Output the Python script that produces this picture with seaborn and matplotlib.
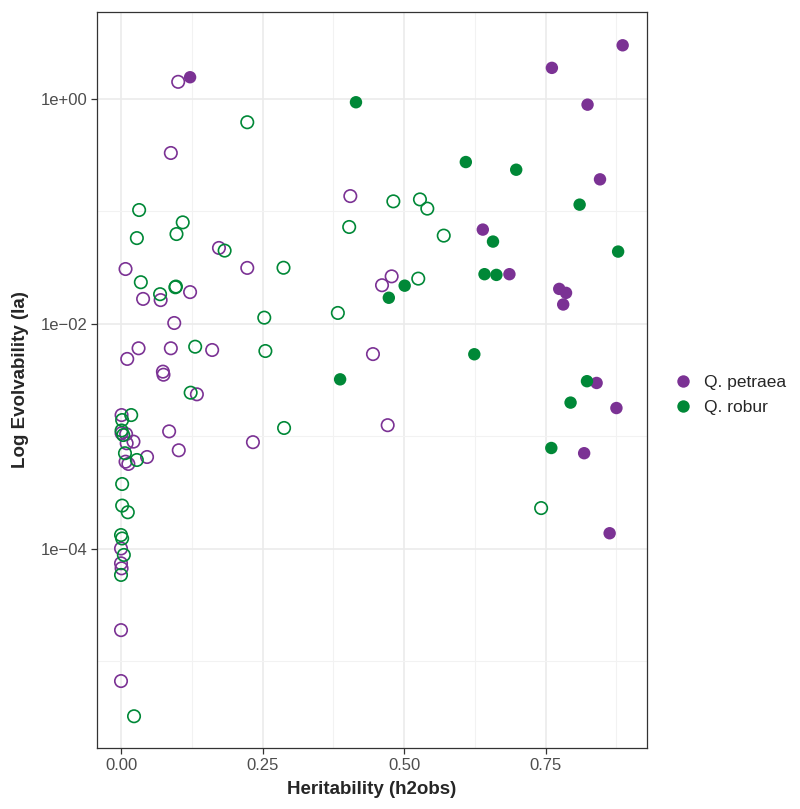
import numpy as np
import pandas as pd
import matplotlib
matplotlib.use("Agg")
import matplotlib.pyplot as plt
import matplotlib.ticker as mticker
import seaborn as sns

# Q. petraea, significant (filled) traits
petraea_sig_h2 = [0.122, 0.761, 0.886, 0.824, 0.846, 0.639, 0.686, 0.774, 0.786, 0.781,
                  0.840, 0.875, 0.818, 0.863]
petraea_sig_ia = [1.56, 1.89, 3.0, 0.89, 0.193, 0.069, 0.0277, 0.0205, 0.0189, 0.0149,
                  0.00299, 0.00179, 0.00071, 0.000138]

# Q. robur, significant (filled) traits
robur_sig_h2 = [0.415, 0.609, 0.698, 0.810, 0.657, 0.878, 0.642, 0.663, 0.501, 0.473,
                0.624, 0.387, 0.823, 0.794, 0.760]
robur_sig_ia = [0.935, 0.275, 0.235, 0.115, 0.054, 0.044, 0.0277, 0.0273, 0.0219, 0.0171,
                0.00538, 0.00322, 0.0031, 0.0020, 0.00079]

# Q. petraea, non significant (open) traits
petraea_ns_h2 = [0.101, 0.088, 0.405, 0.173, 0.008, 0.223, 0.478, 0.461, 0.122, 0.039,
                 0.070, 0.094, 0.031, 0.088, 0.161, 0.011, 0.445, 0.074, 0.075, 0.134,
                 0.471, 0.233, 0.085, 0.102, 0.046, 0.001, 0.001, 0.009, 0.022, 0.010,
                 0.008, 0.013, 0.0, 0.0, 0.001, 0.0, 0.0]
petraea_ns_ia = [1.42, 0.331, 0.137, 0.0474, 0.0308, 0.0315, 0.0265, 0.0221, 0.0192, 0.0167,
                 0.0163, 0.0102, 0.00608, 0.00608, 0.00587, 0.00489, 0.0054, 0.00377, 0.00354,
                 0.00237, 0.00126, 0.00089, 0.00111, 0.000754, 0.000657, 0.00155, 0.00107,
                 0.00105, 0.0009, 0.00087, 0.000597, 0.00057, 0.000101, 0.0000746,
                 0.0000673, 1.9e-5, 6.7e-6]

# Q. robur, non significant (open) traits
robur_ns_h2 = [0.742, 0.481, 0.528, 0.541, 0.403, 0.570, 0.525, 0.383, 0.223, 0.032,
               0.109, 0.098, 0.028, 0.183, 0.287, 0.035, 0.096, 0.097, 0.069, 0.253,
               0.131, 0.255, 0.123, 0.288, 0.018, 0.002, 0.001, 0.004, 0.007, 0.028,
               0.002, 0.002, 0.012, 0.0, 0.002, 0.005, 0.0, 0.023]
robur_ns_ia = [0.000231, 0.123, 0.128, 0.106, 0.0728, 0.061, 0.0253, 0.01253, 0.621, 0.103,
               0.080, 0.063, 0.058, 0.0449, 0.0316, 0.0235, 0.0212, 0.0215, 0.0184, 0.01138,
               0.00628, 0.00575, 0.00245, 0.00119, 0.00155, 0.0014, 0.00113, 0.00103,
               0.00071, 0.000618, 0.000378, 0.000243, 0.000212, 0.000133, 0.000124,
               0.0000885, 0.0000588, 3.26e-6]

species = ["Q. petraea", "Q. robur"]
colors = {"Q. petraea": "#7b3294", "Q. robur": "#008837"}

sig = pd.DataFrame({
    "h2": petraea_sig_h2 + robur_sig_h2,
    "ia": petraea_sig_ia + robur_sig_ia,
    "species": ["Q. petraea"] * len(petraea_sig_h2) + ["Q. robur"] * len(robur_sig_h2),
})
ns = pd.DataFrame({
    "h2": petraea_ns_h2 + robur_ns_h2,
    "ia": petraea_ns_ia + robur_ns_ia,
    "species": ["Q. petraea"] * len(petraea_ns_h2) + ["Q. robur"] * len(robur_ns_h2),
})

sns.set_style("white")
plt.rcParams["font.family"] = ["Liberation Sans", "DejaVu Sans"]

fig = plt.figure(figsize=(8.0, 8.09), dpi=100)
ax = fig.add_axes([97 / 800, 1 - 748 / 809, 550 / 800, 736 / 809])

# open circles (non significant)
for sp in species:
    sub = ns[ns["species"] == sp]
    sns.scatterplot(data=sub, x="h2", y="ia", ax=ax, s=80, marker="o",
                    facecolor="none", edgecolor=colors[sp], linewidth=1.2,
                    legend=False, zorder=3)

# filled circles (significant)
sns.scatterplot(data=sig, x="h2", y="ia", hue="species", hue_order=species,
                palette=colors, ax=ax, s=80, linewidth=0, zorder=4)

ax.set_yscale("log")
ax.set_xlim(-0.0424, 0.929)
ax.set_ylim(10 ** -5.769, 10 ** 0.773)

ax.set_xticks([0, 0.25, 0.5, 0.75])
ax.set_xticklabels(["0.00", "0.25", "0.50", "0.75"])
ax.xaxis.set_minor_locator(mticker.FixedLocator([0.125, 0.375, 0.625, 0.875]))
ax.yaxis.set_major_locator(mticker.FixedLocator([1, 1e-2, 1e-4]))
ax.yaxis.set_major_formatter(mticker.FixedFormatter(["1e+00", "1e\u221202", "1e\u221204"]))
ax.yaxis.set_minor_locator(mticker.FixedLocator([1e-1, 1e-3, 1e-5]))
ax.yaxis.set_minor_formatter(mticker.NullFormatter())

ax.grid(True, which="major", color="#EBEBEB", linewidth=1.2, zorder=0)
ax.grid(True, which="minor", color="#F2F2F2", linewidth=0.8, zorder=0)
ax.set_axisbelow(True)

for side in ax.spines.values():
    side.set_color("#333333")
    side.set_linewidth(0.9)

ax.tick_params(which="major", length=4, width=0.9, color="#333333",
               labelsize=12, labelcolor="#4D4D4D", bottom=True, left=True, pad=3)
ax.tick_params(which="minor", length=0)

ax.set_xlabel("Heritability (h2obs)", fontsize=13.5, fontweight="bold", labelpad=6)
ax.set_ylabel("Log Evolvability (Ia)", fontsize=13.5, fontweight="bold", labelpad=8)

sns.move_legend(ax, loc="center left", bbox_to_anchor=(1.005, 0.48), frameon=False,
                title=None, fontsize=12.5, markerscale=1.0, handletextpad=0.2,
                labelspacing=0.55)

fig.savefig("out.png", dpi=100)
